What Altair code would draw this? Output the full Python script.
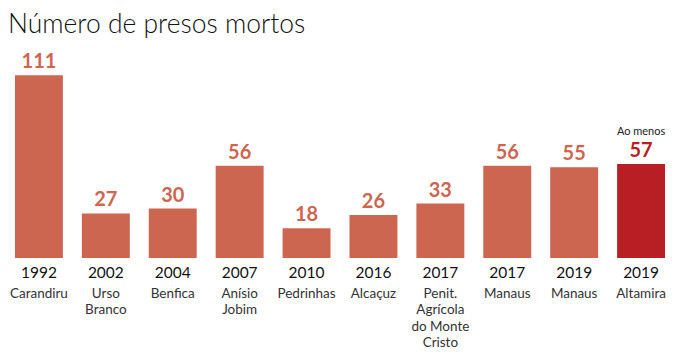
import altair as alt
import pandas as pd

years = ["1992", "2002", "2004", "2007", "2010", "2016", "2017", "2017", "2019", "2019"]
places = ["Carandiru", "Urso\nBranco", "Benfica", "Anísio\nJobim", "Pedrinhas", "Alcaçuz",
          "Penit.\nAgrícola\ndo Monte\nCristo", "Manaus", "Manaus", "Altamira"]
deaths = [111, 27, 30, 56, 18, 26, 33, 56, 55, 57]
highlight = [False] * 9 + [True]
notes = [""] * 9 + ["Ao menos"]

df = pd.DataFrame({
    "key": [f"{i}" for i in range(len(years))],
    "year": years,
    "place": places,
    "deaths": deaths,
    "hl": highlight,
    "note": notes,
})

FONT = "Lato"
x = alt.X("key:N", sort=None, axis=None,
          scale=alt.Scale(paddingInner=0.2836, paddingOuter=0.104))
y = alt.Y("deaths:Q", axis=None, scale=alt.Scale(domain=[0, 111], nice=False))
color = alt.condition(alt.datum.hl, alt.value("#b81f24"), alt.value("#cd6651"))

base = alt.Chart(df)
bars = base.mark_bar().encode(x=x, y=y, color=color)
vals = base.mark_text(font=FONT, fontWeight="bold", fontSize=20, baseline="alphabetic", dy=-7).encode(
    x=x, y=y, text="deaths:Q", color=color)
note = base.mark_text(font=FONT, fontSize=11, baseline="alphabetic", dy=-29, color="#222").encode(
    x=x, y=y, text="note:N")
yrs = base.mark_text(font=FONT, fontSize=15.5, baseline="alphabetic", color="#111").encode(
    x=x, y=alt.value(203), text="year:N")
plc = base.mark_text(font=FONT, fontSize=13.5, baseline="alphabetic", color="#333",
                     lineBreak="\n", lineHeight=16.5).encode(
    x=x, y=alt.value(223), text="place:N")

tdf = pd.DataFrame({"t": ["Número de presos mortos"]})
title = alt.Chart(tdf).mark_text(font=FONT, fontSize=26.5, fontWeight=300, align="left",
                                 baseline="alphabetic", color="#111").encode(
    x=alt.value(0), y=alt.value(-42), text="t:N")

chart = alt.layer(bars, vals, note, yrs, plc, title).properties(
    width=665, height=183,
    autosize=alt.AutoSizeParams(type="none"),
    padding={"left": 0, "top": 67, "right": 0, "bottom": 95},
).configure_view(stroke=None)

chart.save("out.html", embed_options={"renderer": "svg", "actions": False})
